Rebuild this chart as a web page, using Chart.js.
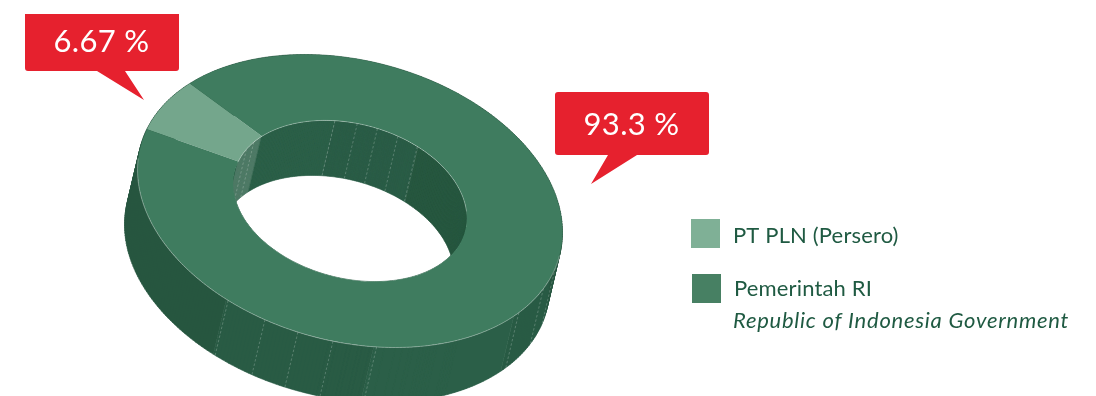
<!DOCTYPE html>
<html>
<head>
<meta charset="utf-8">
<title>Komposisi Pemegang Saham</title>
<script src="https://cdn.jsdelivr.net/npm/chart.js@4"></script>
<style>
  html, body { margin: 0; padding: 0; background: #fff; }
  canvas { display: block; }
</style>
</head>
<body>
<canvas id="chart" width="1096" height="396"></canvas>
<script>
const shareholders = ['PT PLN (Persero)', 'Pemerintah RI'];
const shareholderNotes = ['', 'Republic of Indonesia Government'];
const shares = [6.67, 93.3];
const sliceColors = ['#74a68c', '#3f7c5f'];
const legendColors = ['#7fb096', '#478063'];

const FONT = 'Lato, "Noto Sans", sans-serif';

// Oblique projection of the flat ring: ellipse centre, semi-axes, tilt, extrusion.
const view = { x: 350, y: 201, a: 216.5, b: 140.5, tilt: 14.6 * Math.PI / 180, dx: -13, dy: 55 };

// Facet seams on the ring walls, in canvas degrees.
const outerSeams = [5.4, 14.9, 27.8, 73.2, 85, 94.6, 104, 115.4];
const innerSeams = [198, 205, 253, 264, 274, 284.6, 295.6];

function outerWallColor(d) {
  if (d < 30) return '#295b44';
  if (d < 74) return '#2b5f48';
  if (d < 116) return '#295b44';
  return '#26563f';
}
function innerWallColor(d) {
  if (d >= 187 && d < 211) return '#4f7b66';
  if (d >= 296 || d < 120) return '#27573f';
  if (d >= 253) return '#2a5c46';
  return '#2b5f48';
}

function makeProjector(chart) {
  const arc = chart.getDatasetMeta(0).data[0];
  const scaleX = view.a / arc.outerRadius, scaleY = view.b / arc.outerRadius;
  const cos = Math.cos(view.tilt), sin = Math.sin(view.tilt);
  return {
    arc, scaleX, scaleY, cos, sin,
    point(radius, deg, drop) {
      const t = deg * Math.PI / 180;
      const u = radius * Math.cos(t) * scaleX, v = radius * Math.sin(t) * scaleY;
      return [view.x + u * cos - v * sin + (drop ? view.dx : 0),
              view.y + u * sin + v * cos + (drop ? view.dy : 0)];
    }
  };
}

// One sweep per run of equal colour keeps the wall free of hairline joints.
function drawWall(ctx, p, radius, colorOf, seams) {
  let from = 0;
  while (from < 360) {
    const color = colorOf(from);
    let to = from + 1;
    while (to < 360 && colorOf(to) === color) to++;
    ctx.beginPath();
    for (let d = from; d < to; d++) {
      const q = [p.point(radius, d, 0), p.point(radius, d + 1, 0), p.point(radius, d + 1, 1), p.point(radius, d, 1)];
      ctx.moveTo(q[0][0], q[0][1]);
      ctx.lineTo(q[1][0], q[1][1]);
      ctx.lineTo(q[2][0], q[2][1]);
      ctx.lineTo(q[3][0], q[3][1]);
      ctx.closePath();
    }
    ctx.fillStyle = ctx.strokeStyle = color;
    ctx.lineWidth = 0.6;
    ctx.fill('nonzero');
    ctx.stroke();
    from = to;
  }
  ctx.save();
  ctx.setLineDash([2.5, 2]);
  ctx.lineWidth = 0.8;
  ctx.strokeStyle = 'rgba(255,255,255,0.28)';
  seams.forEach(d => {
    const a = p.point(radius, d, 0), b = p.point(radius, d, 1);
    ctx.beginPath();
    ctx.moveTo(a[0], a[1]);
    ctx.lineTo(b[0], b[1]);
    ctx.stroke();
  });
  ctx.restore();
}

function tracePath(ctx, p, radius, from, to) {
  ctx.beginPath();
  for (let d = from; d <= to; d++) {
    const c = p.point(radius, d, 0);
    d === from ? ctx.moveTo(c[0], c[1]) : ctx.lineTo(c[0], c[1]);
  }
}

const extrudedRing = {
  id: 'extrudedRing',
  beforeDatasetsDraw(chart) {
    const ctx = chart.ctx;
    const p = makeProjector(chart);
    drawWall(ctx, p, p.arc.outerRadius, outerWallColor, outerSeams);
    ctx.save();
    tracePath(ctx, p, p.arc.innerRadius, 0, 360);
    ctx.closePath();
    ctx.clip();
    drawWall(ctx, p, p.arc.innerRadius, innerWallColor, innerSeams);
    ctx.restore();
    // The library paints the slices as the ring's top face, through the projection.
    ctx.save();
    ctx.translate(view.x, view.y);
    ctx.transform(p.cos * p.scaleX, p.sin * p.scaleX, -p.sin * p.scaleY, p.cos * p.scaleY, 0, 0);
    ctx.translate(-p.arc.x, -p.arc.y);
  },
  afterDatasetsDraw(chart) {
    const ctx = chart.ctx;
    ctx.restore();
    const p = makeProjector(chart);
    ctx.save();
    ctx.lineWidth = 0.8;
    ctx.strokeStyle = 'rgba(255,255,255,0.4)';
    tracePath(ctx, p, p.arc.outerRadius, 0, 175);
    ctx.stroke();
    tracePath(ctx, p, p.arc.innerRadius, 187, 345);
    ctx.stroke();
    ctx.restore();
  }
};

function callout(ctx, box, tail, text) {
  const [x, y, w, h] = box, r = 3;
  ctx.fillStyle = '#e6212e';
  ctx.beginPath();
  ctx.moveTo(x + r, y);
  ctx.arcTo(x + w, y, x + w, y + h, r);
  ctx.arcTo(x + w, y + h, x, y + h, r);
  ctx.lineTo(tail[0], y + h);
  ctx.lineTo(tail[2], tail[3]);
  ctx.lineTo(tail[1], y + h);
  ctx.arcTo(x, y + h, x, y, r);
  ctx.arcTo(x, y, x + w, y, r);
  ctx.closePath();
  ctx.fill();
  ctx.fillStyle = '#ffffff';
  ctx.font = '31px ' + FONT;
  ctx.letterSpacing = '0.3px';
  ctx.textAlign = 'center';
  ctx.textBaseline = 'alphabetic';
  ctx.fillText(text, x + w / 2 - 0.5, box[4]);
  ctx.letterSpacing = '0px';
}

const annotations = {
  id: 'annotations',
  afterDraw(chart) {
    const ctx = chart.ctx;
    ctx.save();
    ctx.beginPath();
    ctx.rect(0, 14, chart.width, chart.height - 14);
    ctx.clip();
    callout(ctx, [25, 4, 154, 67, 52], [125, 97, 144, 100], shares[0] + ' %');
    callout(ctx, [555, 92, 154, 63, 135], [637, 608, 591, 184], shares[1] + ' %');
    ctx.restore();

    ctx.save();
    ctx.textAlign = 'left';
    ctx.textBaseline = 'alphabetic';
    ctx.fillStyle = legendColors[0];
    ctx.fillRect(691, 219, 29, 29);
    ctx.fillStyle = legendColors[1];
    ctx.fillRect(692, 274, 29, 29);
    ctx.fillStyle = '#1f5a42';
    ctx.font = '22px ' + FONT;
    ctx.letterSpacing = '0.15px';
    ctx.fillText(shareholders[0], 733, 243);
    ctx.fillText(shareholders[1], 734, 296);
    ctx.font = 'italic 22px ' + FONT;
    ctx.letterSpacing = '0.75px';
    ctx.fillText(shareholderNotes[1], 733, 328);
    ctx.restore();
  }
};

new Chart(document.getElementById('chart'), {
  type: 'doughnut',
  data: {
    labels: shareholders,
    datasets: [{
      data: shares,
      backgroundColor: sliceColors,
      borderWidth: 0,
      clip: false
    }]
  },
  options: {
    responsive: false,
    animation: false,
    cutout: '55%',
    rotation: 277.5,
    layout: { padding: 0 },
    plugins: { legend: { display: false }, tooltip: { enabled: false } }
  },
  plugins: [extrudedRing, annotations]
});
</script>
</body>
</html>
